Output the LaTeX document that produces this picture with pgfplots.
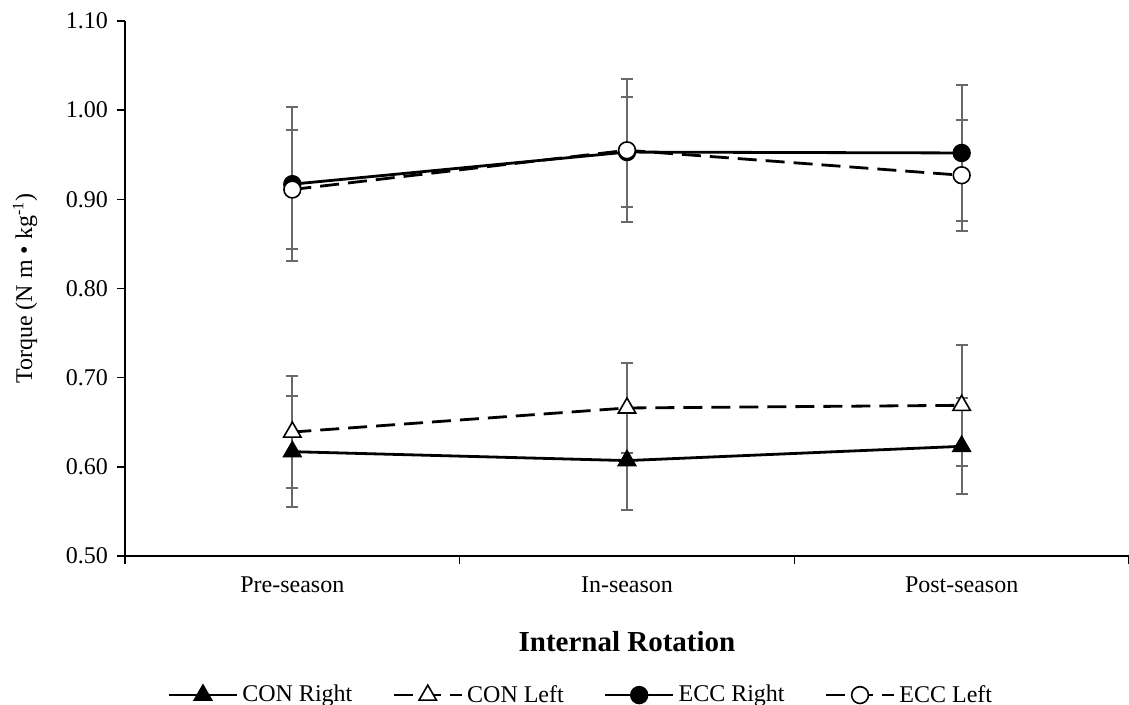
\documentclass[border=0pt]{standalone}
\usepackage{fontspec}
\setmainfont{Liberation Serif}
\usepackage{pgfplots}
\pgfplotsset{compat=1.18}
\definecolor{errgray}{RGB}{105,105,105}

\begin{document}
\begin{tikzpicture}
\begin{axis}[
  at={(0,0)}, anchor=south west,
  scale only axis, width=502pt, height=267.5pt,
  xmin=-0.5, xmax=2.5, ymin=0.5, ymax=1.1,
  axis x line*=bottom, axis y line*=left,
  axis line style={line width=0.8pt},
  xtick={0,1,2},
  xticklabels={Pre-season,In-season,Post-season},
  minor xtick={-0.5,0.5,1.5,2.5},
  ytick={0.5,0.6,0.7,0.8,0.9,1.0,1.1},
  yticklabel style={xshift=-1pt, /pgf/number format/.cd, fixed, fixed zerofill, precision=2},
  /pgf/number format/assume math mode=true,
  tick label style={font=\fontsize{12}{14}\selectfont},
  tick align=outside,
  major x tick style={draw=none},
  minor x tick style={line width=0.8pt, black},
  y tick style={line width=0.8pt, black},
  major tick length=4pt, minor tick length=4pt,
  xticklabel style={yshift=-3pt},
  ylabel={Torque (N m • kg\textsuperscript{-1})},
  ylabel style={at={(axis description cs:-0.0996,0.5)}, anchor=center,
    font=\fontsize{12}{14}\selectfont},
  xlabel={Internal Rotation},
  xlabel style={at={(axis description cs:0.5,-0.16)}, anchor=center,
    font=\fontsize{14.5}{16}\selectfont\bfseries},
  legend columns=4,
  legend style={draw=none, fill=none, at={(0.455,-0.26)}, anchor=center,
    font=\fontsize{12}{14}\selectfont,
    /tikz/every even column/.append style={column sep=18pt}},
  legend image code/.code={\draw[mark repeat=2, mark phase=2]
    plot coordinates {(0pt,0pt) (17pt,0pt) (34pt,0pt)};},
]
% error bars first, behind the lines and markers
\pgfplotsset{errstyle/.style={errgray, only marks, mark=none, forget plot,
  error bars/.cd, y dir=both, y explicit,
  error bar style={line width=1pt, solid},
  error mark options={rotate=90, errgray, line width=1pt, mark size=3pt, solid}}}
\addplot[errstyle] coordinates {
  (0,0.617) +- (0,0.062) (1,0.607) +- (0,0.055) (2,0.623) +- (0,0.054)};
\addplot[errstyle] coordinates {
  (0,0.639) +- (0,0.063) (1,0.666) +- (0,0.051) (2,0.669) +- (0,0.068)};
\addplot[errstyle] coordinates {
  (0,0.917) +- (0,0.086) (1,0.953) +- (0,0.062) (2,0.952) +- (0,0.076)};
\addplot[errstyle] coordinates {
  (0,0.911) +- (0,0.067) (1,0.955) +- (0,0.080) (2,0.927) +- (0,0.062)};

% series
\addplot[black, line width=1.4pt, mark=triangle*, mark size=5pt,
  mark options={fill=black, line width=0.8pt}] coordinates {
  (0,0.617) (1,0.607) (2,0.623)};
\addplot[black, line width=1.4pt, dash pattern=on 9.5pt off 4.5pt, mark=triangle*, mark size=5pt,
  mark options={solid, fill=white, line width=0.8pt}] coordinates {
  (0,0.639) (1,0.666) (2,0.669)};
\addplot[black, line width=1.4pt, mark=*, mark size=4.2pt,
  mark options={fill=black, line width=0.8pt}] coordinates {
  (0,0.917) (1,0.953) (2,0.952)};
\addplot[black, line width=1.4pt, dash pattern=on 9.5pt off 4.5pt, mark=*, mark size=4.2pt,
  mark options={solid, fill=white, line width=0.8pt}] coordinates {
  (0,0.911) (1,0.955) (2,0.927)};
\legend{CON Right,CON Left,ECC Right,ECC Left}
\end{axis}
\pgfresetboundingbox
\path[use as bounding box] (-62.5pt,-74.5pt) rectangle (502pt,278pt);
\end{tikzpicture}
\end{document}
